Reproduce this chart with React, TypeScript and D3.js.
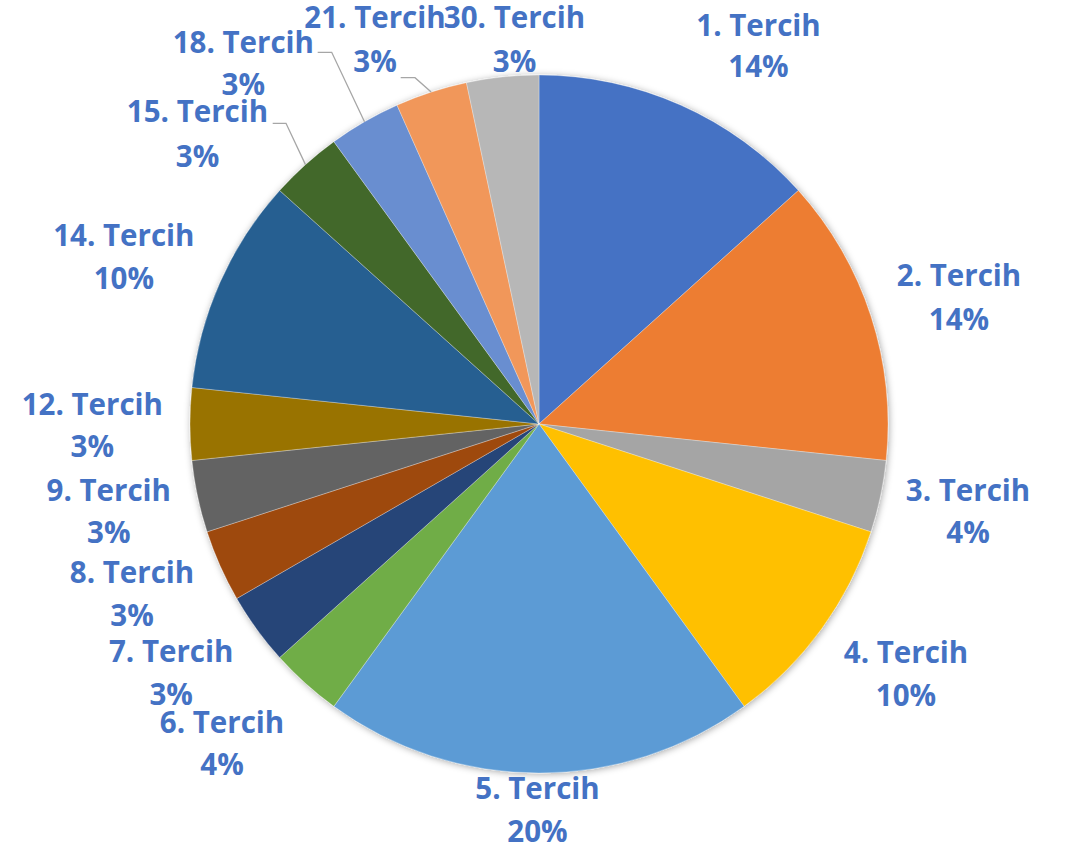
import React from "react";
import * as d3 from "d3";

// ---- data ----
const categories = [
  "1. Tercih", "2. Tercih", "3. Tercih", "4. Tercih", "5. Tercih",
  "6. Tercih", "7. Tercih", "8. Tercih", "9. Tercih", "12. Tercih",
  "14. Tercih", "15. Tercih", "18. Tercih", "21. Tercih", "30. Tercih",
];
const values = [4, 4, 1, 3, 6, 1, 1, 1, 1, 1, 3, 1, 1, 1, 1];
const percentLabels = [
  "14%", "14%", "4%", "10%", "20%", "4%", "3%", "3%", "3%", "3%",
  "10%", "3%", "3%", "3%", "3%",
];
const colors = [
  "#4472C4", "#ED7D31", "#A5A5A5", "#FFC000", "#5B9BD5", "#70AD47",
  "#264478", "#9E480E", "#636363", "#997300", "#255E91", "#43682B",
  "#698ED0", "#F1975A", "#B7B7B7",
];

// ---- layout (label annotations) ----
// [center x, baseline line 1, baseline line 2]
const labelPos: [number, number, number][] = [
  [758.5, 36, 77],
  [959, 286, 330],
  [968, 500.7, 543.3],
  [906, 662.7, 705.7],
  [537.5, 799.3, 842.3],
  [222, 732.7, 775],
  [171.2, 661.7, 705],
  [132, 583.3, 626],
  [108.8, 501, 542.7],
  [92.3, 415, 457.3],
  [123.8, 246, 289.3],
  [197.5, 121.7, 166.7],
  [243.3, 52.7, 95],
  [375, 28.3, 71.7],
  [514.5, 28.3, 71.7],
];
// leader lines: slice index -> [start x, y, elbow x]
const leaders: [number, number, number, number][] = [
  [11, 272.7, 123.3, 286],
  [12, 317.7, 52.3, 331.7],
  [13, 400.7, 77.7, 415],
];

const W = 1066;
const H = 850;
const CX = 539;
const CY = 424;
const R = 349;

export default function App() {
  const pie = d3.pie<number>().sort(null).value((d) => d);
  const arcs = pie(values);
  const arcGen = d3.arc<d3.PieArcDatum<number>>().innerRadius(0).outerRadius(R);
  const edgeArc = d3.arc<d3.PieArcDatum<number>>().innerRadius(R).outerRadius(R);

  return (
    <svg
      width={W}
      height={H}
      style={{ position: "absolute", left: 0, top: 0, background: "#fff" }}
      fontFamily="'Open Sans', Lato, sans-serif"
    >
      <defs>
        <filter id="shadow" x="-10%" y="-10%" width="120%" height="120%">
          <feDropShadow dx="1" dy="1" stdDeviation="3.5" floodColor="#000" floodOpacity="0.35" />
        </filter>
      </defs>
      <g transform={`translate(${CX},${CY})`}>
        <g filter="url(#shadow)">
          {arcs.map((a, i) => (
            <path key={i} d={arcGen(a) || ""} fill={colors[i]} stroke="#ffffff" strokeWidth={0.6} strokeOpacity={0.5} />
          ))}
        </g>
        {leaders.map(([idx, sx, sy, ex]) => {
          const [px, py] = edgeArc.centroid(arcs[idx]);
          return (
            <polyline
              key={idx}
              points={`${sx - CX},${sy - CY} ${ex - CX},${sy - CY} ${px},${py}`}
              fill="none"
              stroke="#A6A6A6"
              strokeWidth={1.3}
            />
          );
        })}
      </g>
      {categories.map((c, i) => {
        const [x, b1, b2] = labelPos[i];
        return (
          <g key={c} fill="#4472C4" fontWeight="bold" fontSize={29.5} textAnchor="middle">
            <text x={x} y={b1}>{c}</text>
            <text x={x} y={b2}>{percentLabels[i]}</text>
          </g>
        );
      })}
    </svg>
  );
}
